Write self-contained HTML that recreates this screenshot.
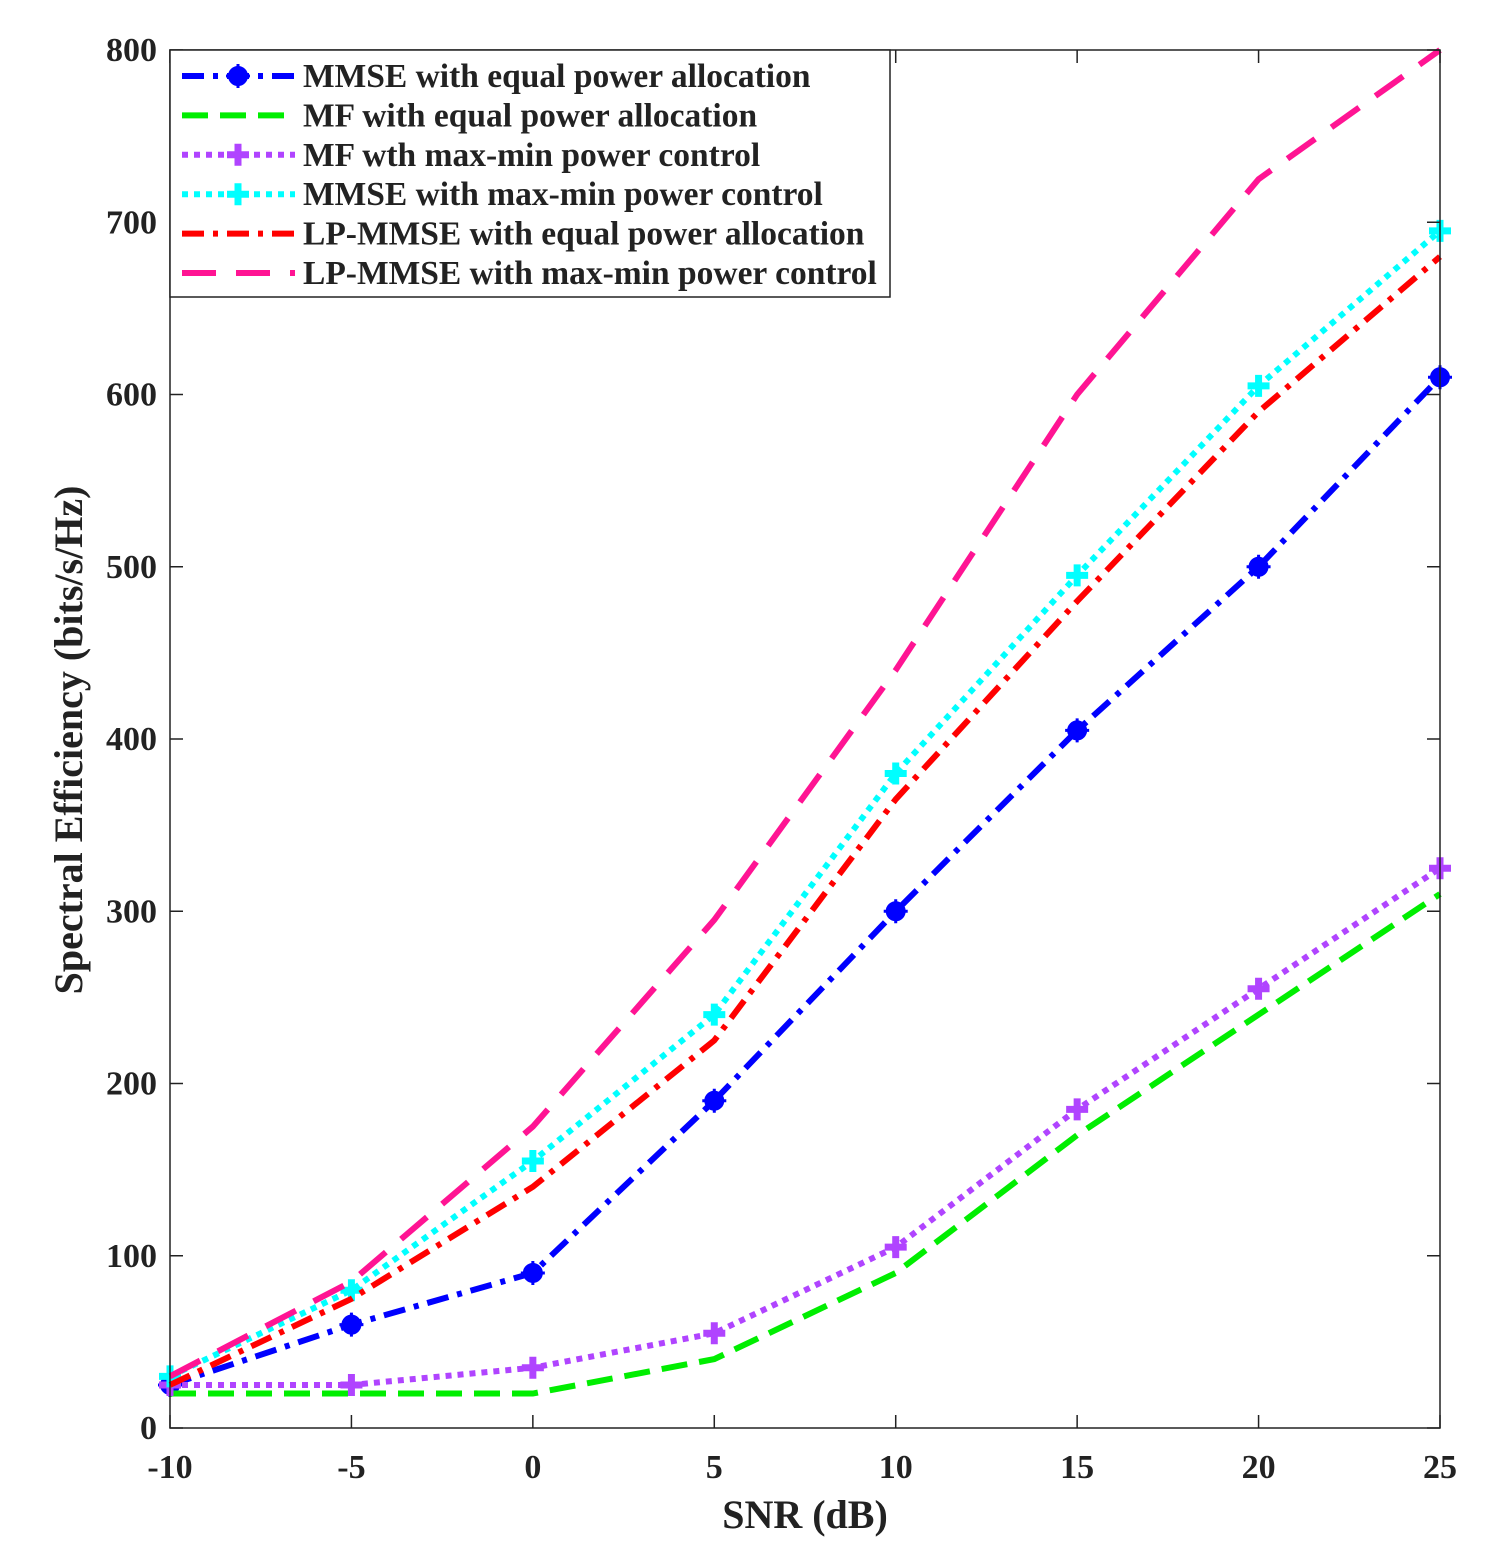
<!DOCTYPE html>
<html><head><meta charset="utf-8">
<style>
html,body{margin:0;padding:0;background:#fff;}
svg text{font-family:"Liberation Serif",serif;font-weight:bold;fill:#222;}
</style></head>
<body>
<svg id="chart" width="1488" height="1554" viewBox="0 0 1488 1554" xmlns="http://www.w3.org/2000/svg">
<rect width="1488" height="1554" fill="#fff"/>
<g id="series"></g>
<g id="axes"></g>
<g id="legend"></g>
</svg>
<script>
const xCats = [-10,-5,0,5,10,15,20,25];
const xTicks = [-10,-5,0,5,10,15,20,25];
const yTicks = [0,100,200,300,400,500,600,700,800];
const mmseEqual = [25,60,90,190,300,405,500,610];
const mfEqual = [20,20,20,40,90,170,240,310];
const mfMaxMin = [25,25,35,55,105,185,255,325];
const mmseMaxMin = [30,80,155,240,380,495,605,695];
const lpEqual = [25,75,140,225,365,480,590,680];
const lpMaxMin = [30,85,175,295,440,600,725,800];
const seriesNames = ["MMSE with equal power allocation","MF with equal power allocation","MF wth max-min power control","MMSE with max-min power control","LP-MMSE with equal power allocation","LP-MMSE with max-min power control"];

const L=170,R=1440,T=50,B=1428;
const xs=v=>L+(v+10)/35*(R-L);
const ys=v=>B-v/800*(B-T);
const NS="http://www.w3.org/2000/svg";
function mk(tag,attrs,parent){const e=document.createElementNS(NS,tag);for(const k in attrs)e.setAttribute(k,attrs[k]);parent.appendChild(e);return e;}
const axes=document.getElementById('axes'),ser=document.getElementById('series'),leg=document.getElementById('legend');

const styles=[
 {data:mmseEqual,color:"#0000ff",dash:"22 9 5 9",marker:"circle",name:"mmse-equal"},
 {data:mfEqual,color:"#00ee00",dash:"26 12",marker:null,name:"mf-equal"},
 {data:mfMaxMin,color:"#b044ff",dash:"6 6",marker:"plus",name:"mf-maxmin"},
 {data:mmseMaxMin,color:"#00ffff",dash:"6 6",marker:"plus",name:"mmse-maxmin"},
 {data:lpEqual,color:"#ff0000",dash:"22 9 5 9",marker:null,name:"lp-mmse-equal"},
 {data:lpMaxMin,color:"#ff1493",dash:"34 20",marker:null,name:"lp-mmse-maxmin"}
];
function marker(type,x,y,color,parent,nm){
 if(type==="circle"){const c=mk('circle',{cx:x,cy:y,r:9,fill:color,stroke:color,'stroke-width':2},parent);
  
  mk('path',{d:`M${x-12} ${y}H${x+12}M${x} ${y-12}V${y+12}`,stroke:color,'stroke-width':3},parent);}
 else if(type==="plus"){const p=mk('path',{d:`M${x-11} ${y}H${x+11}M${x} ${y-11}V${y+11}`,stroke:color,'stroke-width':7},parent);
  }
}
styles.forEach(s=>{
 const pts=s.data.map((v,i)=>xs(xCats[i])+","+ys(v)).join(" ");
 const pl=mk('polyline',{points:pts,fill:"none",stroke:s.color,'stroke-width':6,'stroke-dasharray':s.dash},ser);
 
 
 if(s.marker)s.data.forEach((v,i)=>marker(s.marker,xs(xCats[i]),ys(v),s.color,ser,s.name+'-point'));
});
const box=mk('rect',{x:L,y:T,width:R-L,height:B-T,fill:"none",stroke:"#222",'stroke-width':1.5},axes);


xTicks.forEach(t=>{const x=xs(t);
 mk('path',{d:`M${x} ${B}V${B-13}M${x} ${T}V${T+13}`,stroke:"#222",'stroke-width':1.5},axes);
 const tx=mk('text',{x:x,y:1478,'text-anchor':'middle','font-size':34},axes);tx.textContent=t;
 
 
});
yTicks.forEach(t=>{const y=ys(t);
 mk('path',{d:`M${L} ${y}H${L+13}M${R} ${y}H${R-13}`,stroke:"#222",'stroke-width':1.5},axes);
 const tx=mk('text',{x:157,y:y+11,'text-anchor':'end','font-size':34},axes);tx.textContent=t;
 
 
});
const xt=mk('text',{x:805,y:1528,'text-anchor':'middle','font-size':40},axes);xt.textContent="SNR (dB)";


const yt=mk('text',{x:0,y:0,'text-anchor':'middle','font-size':40,transform:'translate(82,740) rotate(-90)'},axes);yt.textContent="Spectral Efficiency (bits/s/Hz)";


const lb=mk('rect',{x:L,y:T,width:720,height:247,fill:"#fff",stroke:"#222",'stroke-width':1.5},leg);


styles.forEach((s,i)=>{const y=76+i*39.4;
 const g=mk('g',{},leg);
 
 
 mk('path',{d:`M182 ${y}H295`,stroke:s.color,'stroke-width':6,'stroke-dasharray':s.dash,fill:"none"},g);
 if(s.marker)marker(s.marker,238,y,s.color,g,'legend-marker');
 const tx=mk('text',{x:303,y:y+11,'font-size':33.5},g);tx.textContent=seriesNames[i];
});
</script>
</body></html>
